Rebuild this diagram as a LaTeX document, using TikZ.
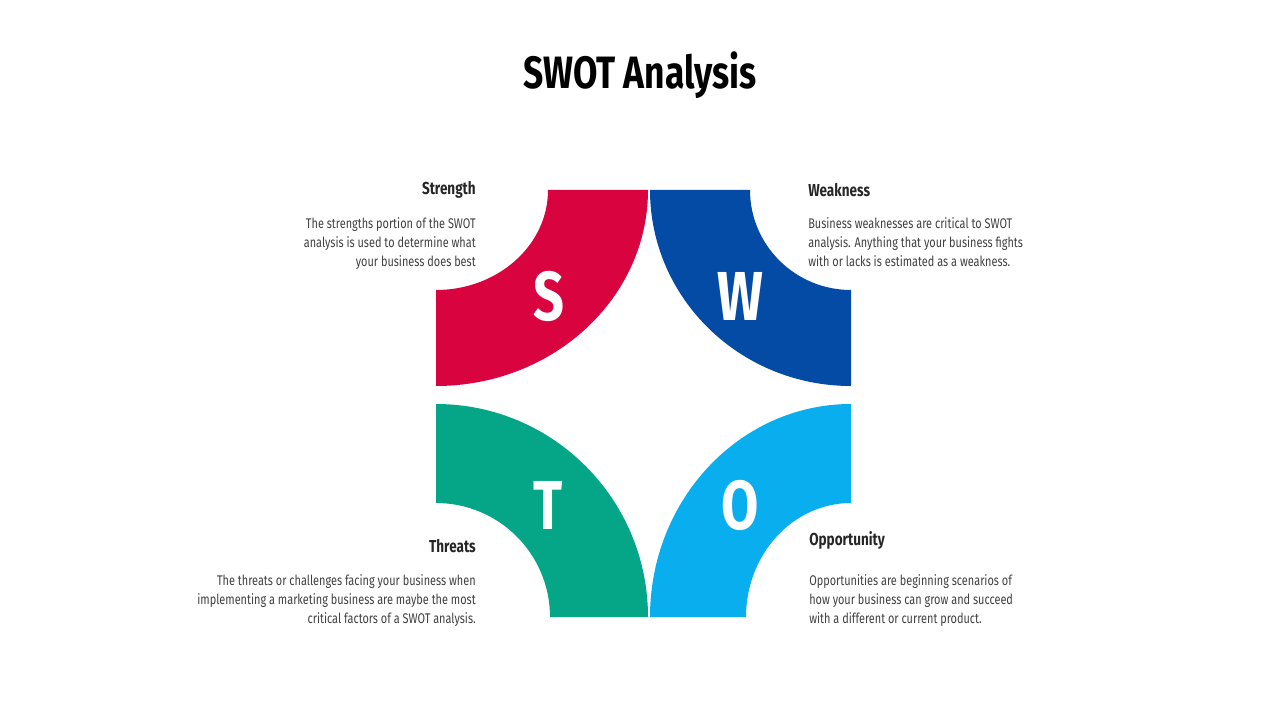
\documentclass[tikz,border=0pt]{standalone}
\usepackage{fontspec}
\setmainfont[FakeStretch=0.78]{Fira Sans}
\definecolor{cred}{HTML}{D9043F}
\definecolor{cblue}{HTML}{044BA5}
\definecolor{cgreen}{HTML}{05A688}
\definecolor{ccyan}{HTML}{09AEEF}
\definecolor{ctext}{HTML}{404040}
\tikzset{
 head/.style={font=\fontsize{13}{15}\selectfont\bfseries,text=black!85,inner sep=0},
 body/.style={font=\fontsize{10.5}{14.3}\selectfont\addfontfeatures{}\fontseries{l}\selectfont,text=ctext,inner sep=0},
 letter/.style={font=\fontsize{52}{52}\selectfont\bfseries,text=white,inner sep=0}
}
\begin{document}
\begin{tikzpicture}[x=0.75pt,y=-0.75pt]
\useasboundingbox (0,0) rectangle (1280,720);
\node[font=\fontsize{34}{36}\selectfont\bfseries,inner sep=0] (title) at (640,75) {SWOT Analysis};
% red
\fill[cred] (648,190) arc[start angle=0,end angle=90,x radius=212,y radius=196] -- (436,290)
 arc[start angle=90,end angle=0,x radius=112,y radius=100] -- cycle;
% blue
\fill[cblue] (650,190) arc[start angle=180,end angle=90,x radius=201,y radius=196] -- (851,290)
 arc[start angle=90,end angle=180,x radius=101,y radius=100] -- cycle;
% green
\fill[cgreen] (648,617) arc[start angle=0,end angle=-90,x radius=212,y radius=213] -- (436,503)
 arc[start angle=-90,end angle=0,x radius=114,y radius=114] -- cycle;
% cyan
\fill[ccyan] (650,617) arc[start angle=180,end angle=270,x radius=201,y radius=213] -- (851,503)
 arc[start angle=270,end angle=180,x radius=105,y radius=114] -- cycle;
\node[letter] (S) at (549,296) {S};
\node[letter] (W) at (740,296) {W};
\node[letter] (T) at (548,505) {T};
\node[letter] (O) at (740,505) {O};
\node[head,anchor=east] (sh) at (476,190) {Strength};
\node[body,anchor=north east,align=right] (sb) at (476,217) {The strengths portion of the SWOT\\analysis is used to determine what\\your business does best};
\node[head,anchor=west] (wh) at (808,190) {Weakness};
\node[body,anchor=north west,align=left] (wb) at (808,217) {Business weaknesses are critical to SWOT\\analysis. Anything that your business fights\\with or lacks is estimated as a weakness.};
\node[head,anchor=east] (th) at (476,546) {Threats};
\node[body,anchor=north east,align=right] (tb) at (476,574) {The threats or challenges facing your business when\\implementing a marketing business are maybe the most\\critical factors of a SWOT analysis.};
\node[head,anchor=west] (oh) at (809,540) {Opportunity};
\node[body,anchor=north west,align=left] (ob) at (809,574) {Opportunities are beginning scenarios of\\how your business can grow and succeed\\with a different or current product.};
\end{tikzpicture}
\end{document}
